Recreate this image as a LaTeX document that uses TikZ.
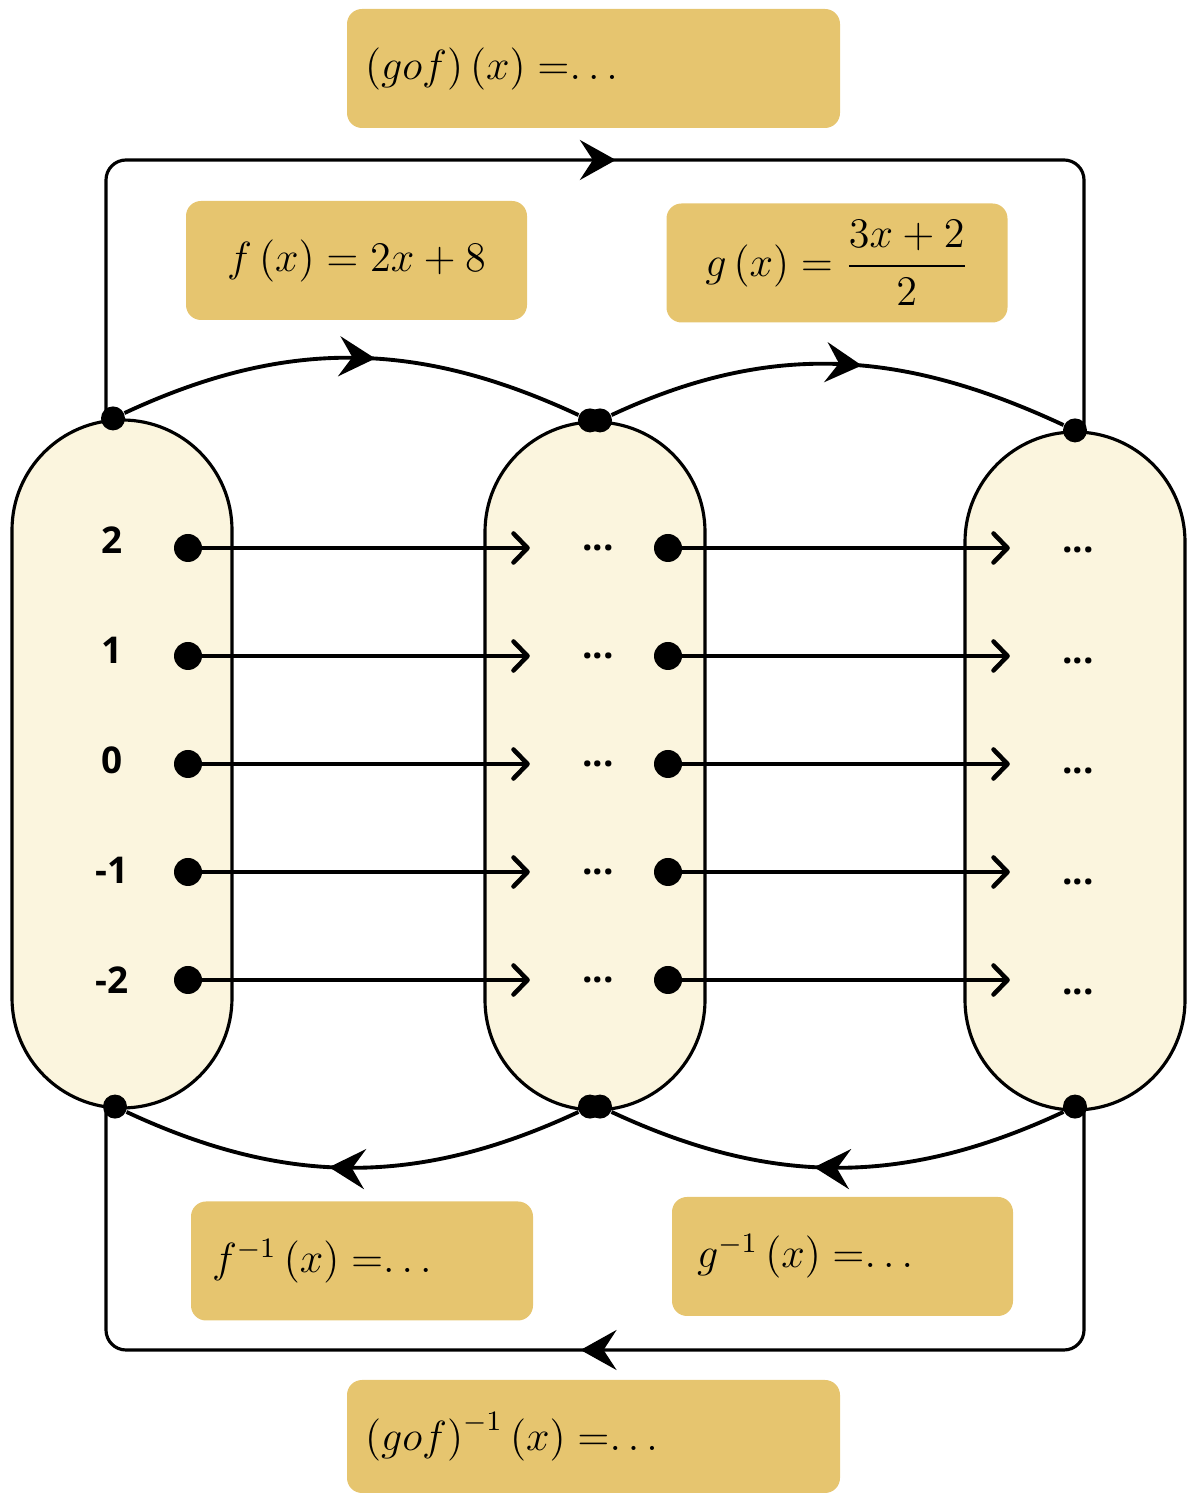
\documentclass[tikz,border=0pt]{standalone}
\usepackage{amsmath}
\usepackage{fontspec}
\setsansfont{Open Sans}
\usepackage{tikz}
\usetikzlibrary{arrows.meta,decorations.markings,calc,positioning}
\definecolor{oro}{HTML}{E6C56F}
\definecolor{crema}{HTML}{FBF5DE}
\tikzset{
  caja/.style={fill=oro,rounded corners=0.15cm,minimum width=3.41cm,minimum height=1.19cm,font=\fontsize{12}{14}\selectfont},
  capsula/.style={draw=black,line width=0.9pt,fill=crema,rounded corners=1.1cm,minimum width=2.2cm,minimum height=6.88cm},
  pt/.style={circle,fill=black,inner sep=0pt,minimum size=0.28cm},
  ptb/.style={circle,fill=black,inner sep=0pt,minimum size=0.24cm},
  num/.style={font=\sffamily\bfseries\fontsize{10.5}{12}\selectfont},
  flecha/.style={line width=1.3pt,shorten >=0.4cm,-{Straight Barb[round,length=1.4mm,width=2.9mm]}},
  medio/.style={decoration={markings,mark=at position #1 with {\arrow{Stealth[length=3.6mm,width=4mm,inset=1.3mm]}}},postaction={decorate}},
  arco/.style={line width=1.1pt,medio=0.55},
  lazo/.style={line width=0.9pt,rounded corners=0.2cm,medio=0.51}
}
\begin{document}
\begin{tikzpicture}
\useasboundingbox (0,0) rectangle (11.88,14.95);
% conjuntos
\node[capsula] (A) at (1.22,7.31) {};
\node[capsula] (B) at (5.95,7.29) {};
\node[capsula,minimum height=6.78cm] (C) at (10.75,7.24) {};
% formulas
\node[caja,minimum width=4.93cm,text width=4.57cm,inner xsep=0.18cm,align=left] (gf) at (5.935,14.265) {\(\left(gof\right)\left(x\right)=\)\(\ldots\)};
\node[caja] (f) at (3.565,12.345) {$f\left(x\right)=2x+8$};
\node[caja] (g) at (8.37,12.32) {$g\left(x\right)=\dfrac{3x+2}{2}$};
\node[caja,minimum width=3.42cm,text width=3.0cm,inner xsep=0.21cm,align=left] (fi) at (3.62,2.34) {\(f^{-1}\left(x\right)=\)\(\ldots\)};
\node[caja,text width=2.91cm,inner xsep=0.25cm,align=left] (gi) at (8.425,2.385) {\(g^{-1}\left(x\right)=\)\(\ldots\)};
\node[caja,minimum width=4.93cm,minimum height=1.13cm,text width=4.57cm,inner xsep=0.18cm,align=left] (gfi) at (5.935,0.585) {\(\left(gof\right)^{-1}\left(x\right)=\)\(\ldots\)};
% puntos de union
\node[ptb] (tA) at ([xshift=-0.09cm]A.north) {};
\node[ptb] (tB1) at ([xshift=-0.05cm]B.north) {};
\node[ptb] (tB2) at ([xshift=0.05cm]B.north) {};
\node[ptb] (tC) at (C.north) {};
\node[ptb] (bA) at ([xshift=-0.07cm,yshift=0.03cm]A.south) {};
\node[ptb] (bB1) at ([xshift=-0.05cm,yshift=0.05cm]B.south) {};
\node[ptb] (bB2) at ([xshift=0.05cm,yshift=0.05cm]B.south) {};
\node[ptb] (bC) at ([yshift=0.05cm]C.south) {};
\coordinate (arriba) at (5.9,13.35);
\coordinate (abajo) at (5.9,1.45);
% composicion
\draw[lazo] ([xshift=-0.07cm]tA.center) |- (arriba) -| ([xshift=0.09cm]tC.center);
\draw[lazo] ([xshift=0.09cm]bC.center) |- (abajo) -| ([xshift=-0.09cm]bA.center);
\draw[arco] (tA) to[out=25,in=155] (tB1);
\draw[arco] (tB2) to[out=25,in=155] (tC);
\draw[arco] (bB1) to[out=-155,in=-25] (bA);
\draw[arco] (bC) to[out=-155,in=-25] (bB2);
% elementos
\foreach \v [count=\i] in {2,1,0,-1,-2}{
  \pgfmathsetmacro{\y}{9.47-1.08*(\i-1)}
  \pgfmathsetmacro{\d}{0.02+0.025*(\i-1)}
  \pgfmathsetmacro{\u}{0.08-0.02*(\i-1)}
  \node[num] (n\i) at (1.12,\y+\u) {\v};
  \node[pt] (p\i) at (1.88,\y) {};
  \node[num] (m\i) at (5.98,\y) {...};
  \node[pt] (q\i) at (6.68,\y) {};
  \node[num] (r\i) at (10.78,\y-\d) {...};
  \draw[flecha] (p\i.center) -- (m\i.west);
  \draw[flecha] (q\i.center) -- (q\i.center -| r\i.west);
}
\end{tikzpicture}
\end{document}
